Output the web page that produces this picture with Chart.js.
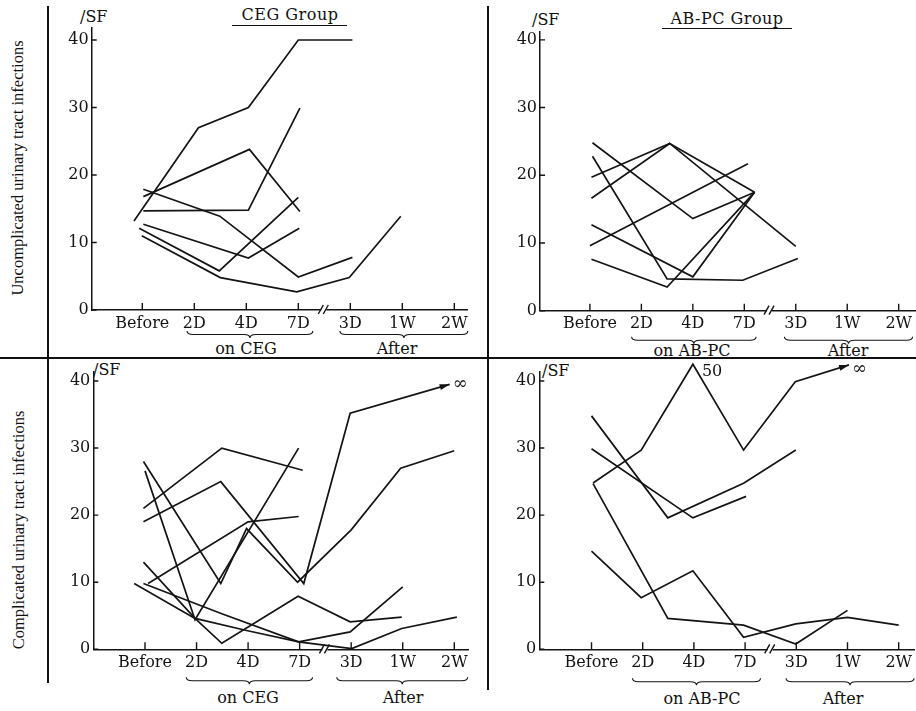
<!DOCTYPE html>
<html>
<head>
<meta charset="utf-8">
<script src="https://cdn.jsdelivr.net/npm/chart.js@4.4.0/dist/chart.umd.min.js"></script>
<style>
  body { margin: 0; background: #fff; }
  #page { position: relative; width: 916px; height: 711px; overflow: hidden;
          font-family: "DejaVu Serif", serif; color: #111; }
  canvas { position: absolute; }
  .t { position: absolute; white-space: nowrap; font-size: 16px; line-height: 1;
       transform: translate(-50%, -50%); }
  .l { position: absolute; white-space: nowrap; font-size: 16px; line-height: 1; }
  .rot { position: absolute; white-space: nowrap; font-family: "Liberation Serif", serif;
         font-size: 16.5px; line-height: 1; transform: translate(-50%, -50%) rotate(-90deg); }
  .rule { position: absolute; background: #111; }
</style>
</head>
<body>
<div id="page">
  <div class="rule" style="left:47px;top:6px;width:1.5px;height:677px"></div>
  <div class="rule" style="left:487px;top:6px;width:1.5px;height:684px"></div>
  <div class="rule" style="left:0;top:357px;width:916px;height:1.5px"></div>

  <div class="rot" style="left:18px;top:168px">Uncomplicated urinary tract infections</div>
  <div class="rot" style="left:19px;top:530px">Complicated urinary tract infections</div>

  <div class="t" style="left:290px;top:15px;letter-spacing:0.5px">CEG Group</div>
  <div class="rule" style="left:232px;top:25px;width:115px;height:1.3px"></div>
  <div class="t" style="left:727px;top:19px;letter-spacing:0.5px">AB-PC Group</div>
  <div class="rule" style="left:662px;top:28px;width:130px;height:1.3px"></div>

  <div class="l" style="left:80px;top:9px">/SF</div>
  <div class="l" style="left:532px;top:12px">/SF</div>
  <div class="l" style="left:93px;top:362px">/SF</div>
  <div class="l" style="left:542px;top:363px">/SF</div>

  <div class="t" style="left:246px;top:349px">on CEG</div>
  <div class="t" style="left:397px;top:349px">After</div>
  <div class="t" style="left:692px;top:351px">on AB-PC</div>
  <div class="t" style="left:848px;top:351px">After</div>
  <div class="t" style="left:248px;top:698px">on CEG</div>
  <div class="t" style="left:403px;top:698px">After</div>
  <div class="t" style="left:702px;top:699px">on AB-PC</div>
  <div class="t" style="left:843px;top:699px">After</div>

  <canvas id="c1" width="438" height="357" style="left:50px;top:0"></canvas>
  <canvas id="c2" width="427" height="357" style="left:489px;top:0"></canvas>
  <canvas id="c3" width="438" height="352" style="left:50px;top:359px"></canvas>
  <canvas id="c4" width="427" height="352" style="left:489px;top:359px"></canvas>
</div>
<script>
const stages = ['Before', '2D', '4D', '7D', '3D', '1W', '2W'];
const yTicks = [0, 10, 20, 30, 40];

// each series: [stage position, /SF value]; Infinity = grew out of range
// uncomplicated UTI, CEG group
const uncCeg1 = [[-0.16, 13.2], [1.08, 27], [2.04, 30], [3.0, 40], [4.04, 40]];
const uncCeg2 = [[0.02, 16.8], [2.06, 23.8], [3.03, 14.6]];
const uncCeg3 = [[0.02, 14.7], [2.04, 14.8], [3.03, 29.9]];
const uncCeg4 = [[0.02, 17.9], [1.49, 13.9], [3.0, 4.9], [4.04, 7.8]];
const uncCeg5 = [[0.02, 12.7], [2.04, 7.7], [3.02, 12.1]];
const uncCeg6 = [[-0.06, 12.1], [1.48, 5.8], [3.0, 16.7]];
const uncCeg7 = [[-0.01, 11.0], [1.5, 4.8], [2.97, 2.7], [3.98, 4.8], [4.97, 13.9]];

// uncomplicated UTI, AB-PC group
const uncAb1 = [[0.05, 24.8], [2.0, 13.6], [3.2, 17.5]];
const uncAb2 = [[0.05, 22.8], [1.5, 4.7], [2.97, 4.5], [4.04, 7.7]];
const uncAb3 = [[0.03, 19.7], [1.55, 24.7], [4.0, 9.5]];
const uncAb4 = [[0.03, 16.6], [1.55, 24.7], [3.2, 17.5]];
const uncAb5 = [[0.03, 12.7], [2.0, 5.0], [3.2, 17.5]];
const uncAb6 = [[0.0, 9.6], [3.07, 21.7]];
const uncAb7 = [[0.03, 7.6], [1.5, 3.5], [3.2, 17.5]];

// complicated UTI, CEG group
const compCeg1 = [[-0.03, 21], [1.49, 30], [3.06, 26.7]];
const compCeg2 = [[-0.03, 19], [1.47, 25], [3.08, 9.8], [3.98, 35.2], [5.91, Infinity]];
const compCeg3 = [[-0.03, 28], [1.47, 9.8], [1.97, 18], [2.96, 10], [4.0, 17.8], [4.96, 27], [6.0, 29.6]];
const compCeg4 = [[0.0, 26.6], [0.97, 4.4], [2.98, 30]];
const compCeg5 = [[0.06, 9.8], [2.0, 19], [2.98, 19.8]];
const compCeg6 = [[-0.03, 13], [0.97, 4.6], [1.49, 0.9], [2.97, 7.9], [3.98, 4.1], [4.98, 4.8]];
const compCeg7 = [[-0.21, 9.8], [0.97, 4.6], [1.97, 2.8], [2.98, 1.1], [3.98, 2.6], [5.0, 9.3]];
const compCeg8 = [[-0.03, 9.8], [1.49, 5.3], [2.98, 1.1], [4.01, 0.1], [4.98, 3.1], [6.05, 4.8]];

// complicated UTI, AB-PC group
const compAb1 = [[0.03, 24.8], [0.97, 29.7], [1.98, 50], [2.97, 29.7], [3.98, 39.9], [5.03, Infinity]];
const compAb2 = [[0.0, 29.9], [1.98, 19.6], [3.02, 22.8]];
const compAb3 = [[0.0, 34.8], [1.49, 19.6], [2.97, 24.75], [3.99, 29.7]];
const compAb4 = [[0.03, 24.7], [1.49, 4.6], [2.97, 3.6], [3.99, 0.8], [5.0, 5.8]];
const compAb5 = [[0.0, 14.65], [0.97, 7.7], [1.98, 11.7], [2.97, 1.8], [3.99, 3.8], [5.0, 4.75], [6.0, 3.6]];

const ink = '#141414';
const font = { family: '"DejaVu Serif", serif', size: 16 };

function brace(ctx, x1, x2, top, h) {
  const m = (x1 + x2) / 2, r = 6, mid = top + h / 2;
  ctx.beginPath();
  ctx.moveTo(x1, top);
  ctx.quadraticCurveTo(x1, mid, x1 + r, mid);
  ctx.lineTo(m - r, mid);
  ctx.quadraticCurveTo(m, mid, m, top + h);
  ctx.quadraticCurveTo(m, mid, m + r, mid);
  ctx.lineTo(x2 - r, mid);
  ctx.quadraticCurveTo(x2, mid, x2, top);
  ctx.stroke();
}

// inner tick marks, axis break, braces, arrows and off-scale values
const decor = {
  id: 'decor',
  afterDatasetsDraw(chart, args, o) {
    const { ctx, scales: { x, y } } = chart;
    const by = y.getPixelForValue(0), lx = x.left;
    ctx.save();
    ctx.strokeStyle = ink;
    ctx.fillStyle = ink;
    ctx.lineWidth = 1.4;
    ctx.beginPath();
    stages.forEach((s, i) => {
      const px = x.getPixelForValue(i);
      ctx.moveTo(px, by);
      ctx.lineTo(px, by - 7);
    });
    yTicks.forEach(v => {
      const py = y.getPixelForValue(v);
      ctx.moveTo(lx, py);
      ctx.lineTo(lx + 5, py);
    });
    ctx.stroke();

    const bx = x.getPixelForValue(3.5);
    ctx.fillStyle = '#fff';
    ctx.fillRect(bx - 3, by - 2, 5, 4);
    ctx.fillStyle = ink;
    ctx.beginPath();
    [-3, 2].forEach(d => {
      ctx.moveTo(bx + d - 3, by + 4);
      ctx.lineTo(bx + d + 2, by - 5);
    });
    ctx.stroke();

    ctx.lineWidth = 1.1;
    o.braces.forEach(([a, b]) => brace(ctx, x.getPixelForValue(a), x.getPixelForValue(b), by + o.braceGap, 7));

    ctx.font = '16px "DejaVu Serif", serif';
    ctx.textBaseline = 'middle';
    chart.data.datasets.forEach((ds, i) => {
      const pts = chart.getDatasetMeta(i).data;
      ds.data.forEach((d, j) => {
        if (isFinite(d.v) && d.v > 40) ctx.fillText(String(d.v), pts[j].x + 9, pts[j].y + 8);
        if (d.v === Infinity && j > 0) {
          const p = pts[j], q = pts[j - 1];
          const a = Math.atan2(p.y - q.y, p.x - q.x);
          ctx.beginPath();
          ctx.moveTo(p.x, p.y);
          ctx.lineTo(p.x - 10 * Math.cos(a) + 3 * Math.sin(a), p.y - 10 * Math.sin(a) - 3 * Math.cos(a));
          ctx.lineTo(p.x - 10 * Math.cos(a) - 3 * Math.sin(a), p.y - 10 * Math.sin(a) + 3 * Math.cos(a));
          ctx.closePath();
          ctx.fill();
          ctx.save();
          ctx.font = '18px "DejaVu Serif", serif';
          ctx.fillText('\u221E', p.x + 3, p.y + o.infDy);
          ctx.restore();
        }
      });
    });
    ctx.restore();
  }
};

function panel(id, series, cfg) {
  // values past 40 are squeezed into the top margin, "∞" sits at a fixed height
  const yPos = v => v === Infinity ? cfg.inf : v > 40 ? 40 + (v - 40) / 4 : v;
  return new Chart(document.getElementById(id), {
    type: 'line',
    data: {
      datasets: series.map(s => ({
        data: s.map(([x, v]) => ({ x, y: yPos(v), v })),
        borderColor: ink,
        borderWidth: 1.7,
        pointRadius: 0,
        tension: 0,
        clip: false
      }))
    },
    options: {
      animation: false,
      responsive: false,
      events: [],
      layout: { padding: cfg.pad },
      plugins: { legend: { display: false }, tooltip: { enabled: false }, decor: cfg },
      scales: {
        x: {
          type: 'linear', min: cfg.x[0], max: cfg.x[1],
          afterBuildTicks: s => { s.ticks = stages.map((_, i) => ({ value: i })); },
          afterFit: s => { s.height = 40; },
          ticks: { callback: v => stages[v], font, color: ink, padding: 4, maxRotation: 0, autoSkip: false },
          grid: { display: true, drawOnChartArea: false, drawTicks: false },
          border: { color: ink, width: 1.5 }
        },
        y: {
          min: 0, max: cfg.y,
          afterBuildTicks: s => { s.ticks = yTicks.map(v => ({ value: v })); },
          afterFit: s => { s.width = 40; },
          ticks: { font, color: ink, padding: 3 },
          grid: { display: true, drawOnChartArea: false, drawTicks: false },
          border: { color: ink, width: 1.5 }
        }
      }
    },
    plugins: [decor]
  });
}

panel('c1', [uncCeg1, uncCeg2, uncCeg3, uncCeg4, uncCeg5, uncCeg6, uncCeg7], {
  pad: { left: 1.7, top: 28, right: 21, bottom: 7 },
  x: [-0.973, 6.244], y: 41.78,
  braces: [[0.86, 3.28], [3.8, 6.26]], braceGap: 21, inf: 40, infDy: 0
});
panel('c2', [uncAb1, uncAb2, uncAb3, uncAb4, uncAb5, uncAb6, uncAb7], {
  pad: { left: 11, top: 31.7, right: 0, bottom: 6.3 },
  x: [-0.97, 6.324], y: 41.2,
  braces: [[0.81, 3.23], [3.78, 6.27]], braceGap: 26, inf: 40, infDy: 0
});
panel('c3', [compCeg1, compCeg2, compCeg3, compCeg4, compCeg5, compCeg6, compCeg7, compCeg8], {
  pad: { left: 3.3, top: 11.5, right: 20, bottom: 21.7 },
  x: [-1.003, 6.266], y: 41.4,
  braces: [[0.8, 3.25], [3.72, 6.26]], braceGap: 28, inf: 39.5, infDy: 0
});
panel('c4', [compAb1, compAb2, compAb3, compAb4, compAb5], {
  pad: { left: 10.3, top: 11.5, right: 0, bottom: 21.7 },
  x: [-1.02, 6.31], y: 41.4,
  braces: [[0.8, 3.3], [3.8, 6.3]], braceGap: 29, inf: 42.4, infDy: 4
});
</script>
</body>
</html>
